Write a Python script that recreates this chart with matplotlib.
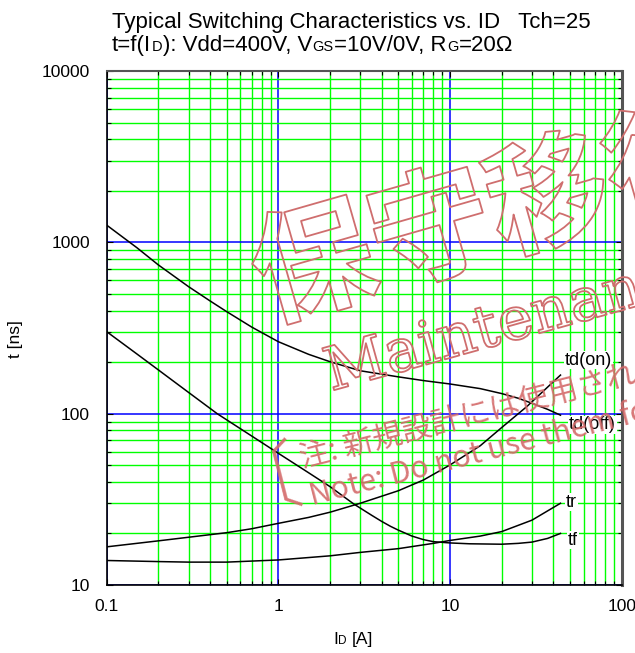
import matplotlib
matplotlib.use("Agg")
import matplotlib.pyplot as plt
import matplotlib.patheffects as pe
from matplotlib.ticker import FixedLocator, FixedFormatter, LogLocator, NullFormatter

# ---------------- data ----------------
id_td_off = [0.1, 0.15, 0.2, 0.3, 0.4, 0.5, 0.7, 1, 1.5, 2, 3, 5, 7, 10, 15, 20, 25, 30, 37, 44]
t_td_off = [1260, 930, 738, 551, 455, 394, 320, 263, 222, 201, 178, 164, 156, 149, 140, 131, 123, 115, 106, 98]

id_td_on = [0.1, 0.2, 0.3, 0.5, 0.7, 1, 1.5, 2, 3, 5, 7, 10, 15, 20, 28, 44]
t_td_on = [16.7, 18.1, 19.0, 20.2, 21.3, 22.9, 24.8, 26.6, 30.0, 35.5, 41.0, 50.2, 65, 83, 110, 168]

id_tf = [0.1, 0.15, 0.2, 0.3, 0.44, 0.7, 1, 1.5, 2, 2.75, 3.5, 4, 4.5, 5, 6, 7, 8, 10, 13, 20, 25, 30, 37, 44]
t_tf = [301, 223, 180, 133, 100, 74, 58.7, 45.2, 37.5, 29.7, 25.5, 23.5, 22.0, 20.9, 19.3, 18.4, 17.9,
        17.6, 17.4, 17.3, 17.5, 17.8, 18.7, 20.0]

id_tr = [0.1, 0.2, 0.3, 0.5, 1, 2, 3, 5, 8, 10, 15, 20, 30, 44]
t_tr = [13.9, 13.7, 13.6, 13.6, 14.0, 14.8, 15.5, 16.3, 17.5, 18.2, 19.3, 20.5, 23.9, 30.0]

x_ticks = [0.1, 1, 10, 100]
x_tick_labels = ["0.1", "1", "10", "100"]
y_ticks = [10, 100, 1000, 10000]
y_tick_labels = ["10", "100", "1000", "10000"]

curve_labels = ["td(on)", "td(off)", "tr", "tf"]

title_line1 = "Typical Switching Characteristics vs. ID   Tch=25"
title_line2 = [("t=f(I", False), ("D", True), ("): Vdd=400V, V", False), ("GS", True),
               ("=10V/0V, R", False), ("G", True), ("=20\u03a9", False)]

wm_big = "保守移行"
wm_maint = "Maintenance"
wm_note_jp = "注: 新規設計には使用されないよう"
wm_note_en = "Note: Do not use them for new design"

# ---------------- figure ----------------
W, H = 635, 653
plt.rcParams['font.family'] = ['Liberation Sans', 'DejaVu Sans']

def fx(px):
    return px / W

def fy(py):
    return 1 - py / H

fig = plt.figure(figsize=(W / 100, H / 100), dpi=100)
ax = fig.add_axes([fx(106.7), fy(585), 515 / W, 514 / H])
ax.set_xscale('log')
ax.set_yscale('log')
ax.set_xlim(0.1, 100)
ax.set_ylim(10, 10000)

for axis, ticks, labels in ((ax.xaxis, x_ticks, x_tick_labels), (ax.yaxis, y_ticks, y_tick_labels)):
    axis.set_major_locator(FixedLocator(ticks))
    axis.set_major_formatter(FixedFormatter(labels))
    axis.set_minor_locator(LogLocator(base=10, subs=range(2, 10), numticks=30))
    axis.set_minor_formatter(NullFormatter())

ax.grid(which='minor', color='#00ff00', lw=1.0)
ax.grid(which='major', color='#0000ff', lw=1.1)
ax.set_axisbelow(True)
ax.tick_params(which='both', direction='in', top=True, right=True, color='black', width=0.8)
ax.tick_params(which='major', length=4)
ax.tick_params(which='minor', length=3)
ax.tick_params(axis='x', labelsize=12.5, pad=10)
ax.tick_params(axis='y', labelsize=12.5, pad=12)

for s in ('left', 'bottom'):
    ax.spines[s].set_color('black')
    ax.spines[s].set_linewidth(1.2)
ax.spines['top'].set_color('#555555')
ax.spines['top'].set_linewidth(1.5)
ax.spines['right'].set_color('#555555')
ax.spines['right'].set_linewidth(2.2)

# curves
ax.plot(id_td_off, t_td_off, color='black', lw=1.1)
ax.plot(id_td_on, t_td_on, color='black', lw=1.1)
ax.plot(id_tf, t_tf, color='black', lw=1.1)
ax.plot(id_tr, t_tr, color='black', lw=1.1)

lab_box = dict(facecolor='white', edgecolor='none', pad=0.5)
ax.text(46.7, 205, curve_labels[0], fontsize=13, ha='left', va='center', bbox=lab_box, zorder=5)
ax.text(49.3, 86, curve_labels[1], fontsize=13, ha='left', va='center', bbox=lab_box, zorder=5)
ax.text(47.5, 30.5, curve_labels[2], fontsize=13, ha='left', va='center', bbox=lab_box, zorder=5)
ax.text(48.6, 18.3, curve_labels[3], fontsize=13, ha='left', va='center', bbox=lab_box, zorder=5)

# y label
ax.set_ylabel("t [ns]", fontsize=12.5, va='center')
ax.yaxis.set_label_coords((15 - 106.7) / 515, (585 - 339) / 514)

renderer = fig.canvas.get_renderer()

def draw_pieces(x0, base_y, pieces, size, subsize):
    x = x0
    for s, sub in pieces:
        t = fig.text(fx(x), fy(base_y), s, fontsize=subsize if sub else size,
                     ha='left', va='baseline')
        bb = t.get_window_extent(renderer)
        x = bb.x1 + 0.5
    return x

# title
fig.text(fx(112), fy(28.3), title_line1, fontsize=16, ha='left', va='baseline')
draw_pieces(112, 51.3, title_line2, 16, 10.5)

# x label "ID [A]"
xe = draw_pieces(333, 644, [("I", False), ("D", True)], 12.5, 8.5)
fig.text(fx(xe + 4), fy(644), "[A]", fontsize=12.5, ha='left', va='baseline')

# ---------------- watermark ----------------
wm_col = '#cf6e6e'
outline = [pe.Stroke(linewidth=1.3, foreground=wm_col)]
fig.text(fx(266), fy(320), wm_big, fontsize=88, family=['Noto Sans CJK JP'],
         fontweight='bold', color='none', rotation=16, rotation_mode='anchor',
         ha='left', va='baseline', path_effects=outline)
fig.text(fx(331), fy(391), wm_maint, fontsize=43, family=['DejaVu Serif'],
         color='none', rotation=15.5, rotation_mode='anchor',
         ha='left', va='baseline', path_effects=outline)
fig.text(fx(302.4), fy(468.1), wm_note_jp, fontsize=21.7,
         family=['Noto Sans CJK JP', 'DejaVu Sans'], color='#d46a6a', alpha=0.9,
         rotation=14.3, rotation_mode='anchor', ha='left', va='baseline')
fig.text(fx(311.8), fy(504.9), wm_note_en, fontsize=21.7,
         family=['Noto Sans CJK JP', 'DejaVu Sans'], color='#d46a6a', alpha=0.9,
         rotation=14.3, rotation_mode='anchor', ha='left', va='baseline')
fig.text(fx(262), fy(474), "\u3014", fontsize=54, family=['Noto Sans CJK JP'],
         fontweight='light', color='#d46a6a', alpha=0.9, rotation=14.3,
         rotation_mode='anchor', ha='center', va='center')

fig.savefig("out.png", dpi=100)
